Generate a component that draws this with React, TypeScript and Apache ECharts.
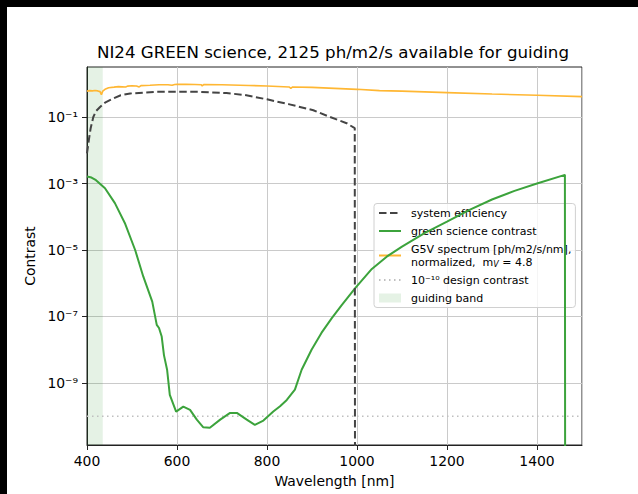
import React, { useEffect, useRef } from 'react';
import * as echarts from 'echarts';

const TITLE = 'NI24 GREEN science, 2125 ph/m2/s available for guiding';
const X_NAME = 'Wavelength [nm]';
const Y_NAME = 'Contrast';

// system efficiency
const effWl = [400, 404, 408, 414, 420, 429, 440, 458, 475, 496, 555, 607, 650, 710, 750, 800, 850, 903, 940, 977, 995, 996];
const effVal = [8e-3, 0.02, 0.045, 0.1, 0.15, 0.2, 0.27, 0.36, 0.45, 0.51, 0.575, 0.575, 0.57, 0.525, 0.46, 0.34, 0.24, 0.16, 0.1, 0.065, 0.046, 1e-20];

// green science contrast
const greenWl = [400, 410, 420, 440, 462, 484, 507, 525, 545, 555, 560, 566, 571, 578, 584, 598, 614, 629, 644, 658, 673, 696, 718, 733, 755, 773, 792, 814, 829, 844, 862, 877, 899, 921, 944, 966, 996, 1033, 1066, 1100, 1150, 1200, 1250, 1300, 1350, 1400, 1462, 1463];
const greenVal = [1.62e-3, 1.51e-3, 1.26e-3, 7.2e-4, 2.57e-4, 6.5e-5, 1.0e-5, 1.6e-6, 2.8e-7, 5.6e-8, 4.5e-8, 2.5e-8, 6.9e-9, 2.5e-9, 4.4e-10, 1.38e-10, 1.95e-10, 1.55e-10, 7.9e-11, 4.7e-11, 4.5e-11, 7.9e-11, 1.26e-10, 1.26e-10, 7.9e-11, 5.5e-11, 7.4e-11, 1.38e-10, 2.0e-10, 3.1e-10, 6.3e-10, 2.5e-9, 1.0e-8, 3.2e-8, 8.9e-8, 2.2e-7, 7.1e-7, 2.7e-6, 6.3e-6, 1.26e-5, 3.2e-5, 7.1e-5, 1.6e-4, 3.3e-4, 6.0e-4, 1.0e-3, 1.82e-3, 1e-20];

// G5V spectrum, normalized
const specWl = [400, 406, 412, 418, 424, 429, 432, 435, 440, 448, 460, 470, 486, 490, 500, 510, 516, 520, 540, 560, 580, 589, 595, 600, 620, 640, 654, 656, 660, 700, 760, 800, 849, 853, 857, 900, 1000, 1050, 1100, 1200, 1300, 1400, 1500];
const specVal = [0.6, 0.62, 0.61, 0.63, 0.61, 0.58, 0.47, 0.6, 0.68, 0.76, 0.79, 0.82, 0.8, 0.85, 0.87, 0.86, 0.8, 0.88, 0.9, 0.93, 0.93, 0.9, 0.95, 0.97, 0.96, 0.95, 0.93, 0.86, 0.95, 0.93, 0.89, 0.86, 0.8, 0.73, 0.8, 0.78, 0.68, 0.62, 0.6, 0.54, 0.49, 0.45, 0.41];

const designContrast = 1e-10;
const guidingBand = [400, 435];
const xRange = [400, 1500];
const yExpRange = [-10.865, 0.504];
const yTickExps = [-9, -7, -5, -3, -1];

const FONT = 'DejaVu Sans';
const SUP: Record<string, string> = { '-': '⁻', '0': '⁰', '1': '¹', '2': '²', '3': '³', '4': '⁴', '5': '⁵', '6': '⁶', '7': '⁷', '8': '⁸', '9': '⁹' };
const sup = (n: number) => String(Math.round(n)).split('').map((c) => SUP[c] || c).join('');

const toPts = (xs: number[], vs: number[]) => xs.map((x, i) => [x, Math.log10(vs[i])]);

const N_EFF = 'system efficiency';
const N_GREEN = 'green science contrast';
const N_SPEC = 'G5V spectrum';
const N_DESIGN = 'design contrast';
const N_BAND = 'guiding band';
const BAND_COLOR = 'rgba(0,128,0,0.1)';

export default function App() {
  const ref = useRef<HTMLDivElement>(null);
  useEffect(() => {
    const chart = echarts.init(ref.current!, null, { renderer: 'svg' });
    const axisColor = '#222';
    const gridColor = '#cacaca';
    const option: any = {
      animation: false,
      backgroundColor: '#fff',
      textStyle: { fontFamily: FONT },
      title: {
        text: TITLE,
        left: 326,
        top: 37,
        textAlign: 'center',
        padding: 0,
        textStyle: { fontFamily: FONT, fontSize: 16.67, fontWeight: 'normal', color: '#000' },
      },
      grid: { left: 80, top: 60, right: 56, bottom: 49, show: true, borderColor: axisColor, borderWidth: 1, backgroundColor: 'transparent' },
      xAxis: {
        type: 'value',
        min: xRange[0],
        max: xRange[1],
        interval: 200,
        name: X_NAME,
        nameLocation: 'middle',
        nameGap: 29,
        nameTextStyle: { fontFamily: FONT, fontSize: 13.9, color: '#000' },
        axisLine: { show: true, onZero: false, lineStyle: { color: axisColor, width: 1 } },
        axisTick: { show: true, length: 5, lineStyle: { color: axisColor } },
        axisLabel: { fontFamily: FONT, fontSize: 13.9, color: '#000', margin: 9, showMaxLabel: false, formatter: (v: number) => String(v) },
        splitLine: { show: true, lineStyle: { color: gridColor, width: 1 } },
      },
      yAxis: {
        type: 'value',
        min: yExpRange[0],
        max: yExpRange[1],
        name: Y_NAME,
        nameLocation: 'middle',
        nameGap: 48,
        nameTextStyle: { fontFamily: FONT, fontSize: 13.9, color: '#000' },
        axisLine: { show: true, onZero: false, lineStyle: { color: axisColor, width: 1 } },
        axisTick: { show: true, length: 5, customValues: yTickExps, lineStyle: { color: axisColor } },
        axisLabel: {
          fontFamily: FONT, fontSize: 13.9, color: '#000', margin: 9,
          customValues: yTickExps,
          formatter: (v: number) => '10' + sup(v),
        },
        splitLine: { show: true, lineStyle: { color: gridColor, width: 1 } },
      },
      legend: {
        orient: 'vertical',
        left: 367,
        top: 196.5,
        itemGap: 5,
        itemWidth: 22,
        itemHeight: 9,
        padding: [3, 4, 3, 4],
        backgroundColor: 'rgba(255,255,255,0.8)',
        borderColor: '#d0d0d0',
        borderWidth: 1,
        borderRadius: 3,
        selectedMode: false,
        itemStyle: { opacity: 0 },
        data: [
          { name: N_EFF },
          { name: N_GREEN },
          { name: N_SPEC },
          { name: N_DESIGN },
          { name: N_BAND, icon: 'rect', itemStyle: { color: BAND_COLOR, opacity: 1 } },
        ],
        formatter: (name: string) => {
          if (name === N_SPEC) return '{t|G5V spectrum [ph/m2/s/nm],}\n{t|normalized,  m}{sub|V}{t| = 4.8}';
          if (name === N_DESIGN) return '{t|10' + sup(Math.log10(designContrast)) + ' design contrast}';
          return '{t|' + name + '}';
        },
        textStyle: {
          fontFamily: FONT, fontSize: 11, lineHeight: 13, color: '#000', padding: [0, 0, 0, 5],
          rich: {
            t: { fontFamily: FONT, fontSize: 11, lineHeight: 13, color: '#000' },
            sub: { fontFamily: FONT, fontSize: 8, lineHeight: 9, fontStyle: 'italic', color: '#000', verticalAlign: 'bottom' },
          },
        },
      },
      series: [
        {
          name: N_BAND,
          type: 'line',
          data: [],
          z: 1,
          itemStyle: { color: BAND_COLOR },
          markArea: {
            silent: true,
            itemStyle: { color: BAND_COLOR },
            data: [[{ xAxis: guidingBand[0] }, { xAxis: guidingBand[1] }]],
          },
        },
        {
          name: N_DESIGN,
          type: 'line',
          symbol: 'none',
          z: 2,
          data: [[xRange[0], Math.log10(designContrast)], [xRange[1], Math.log10(designContrast)]],
          lineStyle: { color: '#bfbfbf', width: 1.5, type: [1.5, 3.5] },
          itemStyle: { color: '#bfbfbf' },
        },
        {
          name: N_SPEC,
          type: 'line',
          symbol: 'none',
          z: 3,
          data: toPts(specWl, specVal),
          lineStyle: { color: '#ffb733', width: 1.6 },
          itemStyle: { color: '#ffb733' },
        },
        {
          name: N_GREEN,
          type: 'line',
          symbol: 'none',
          z: 4,
          data: toPts(greenWl, greenVal),
          lineStyle: { color: '#3ca33c', width: 2 },
          itemStyle: { color: '#3ca33c' },
        },
        {
          name: N_EFF,
          type: 'line',
          symbol: 'none',
          z: 5,
          data: toPts(effWl, effVal),
          lineStyle: { color: '#444', width: 2, type: [7.5, 3.5] },
          itemStyle: { color: '#444' },
        },
      ],
    };
    chart.setOption(option);
    return () => chart.dispose();
  }, []);
  return (
    <div style={{ position: 'fixed', left: 0, top: 0, right: 0, bottom: 0, background: '#000' }}>
      <div ref={ref} style={{ position: 'absolute', left: 7, top: 7, width: 631, height: 487, background: '#fff' }} />
    </div>
  );
}
